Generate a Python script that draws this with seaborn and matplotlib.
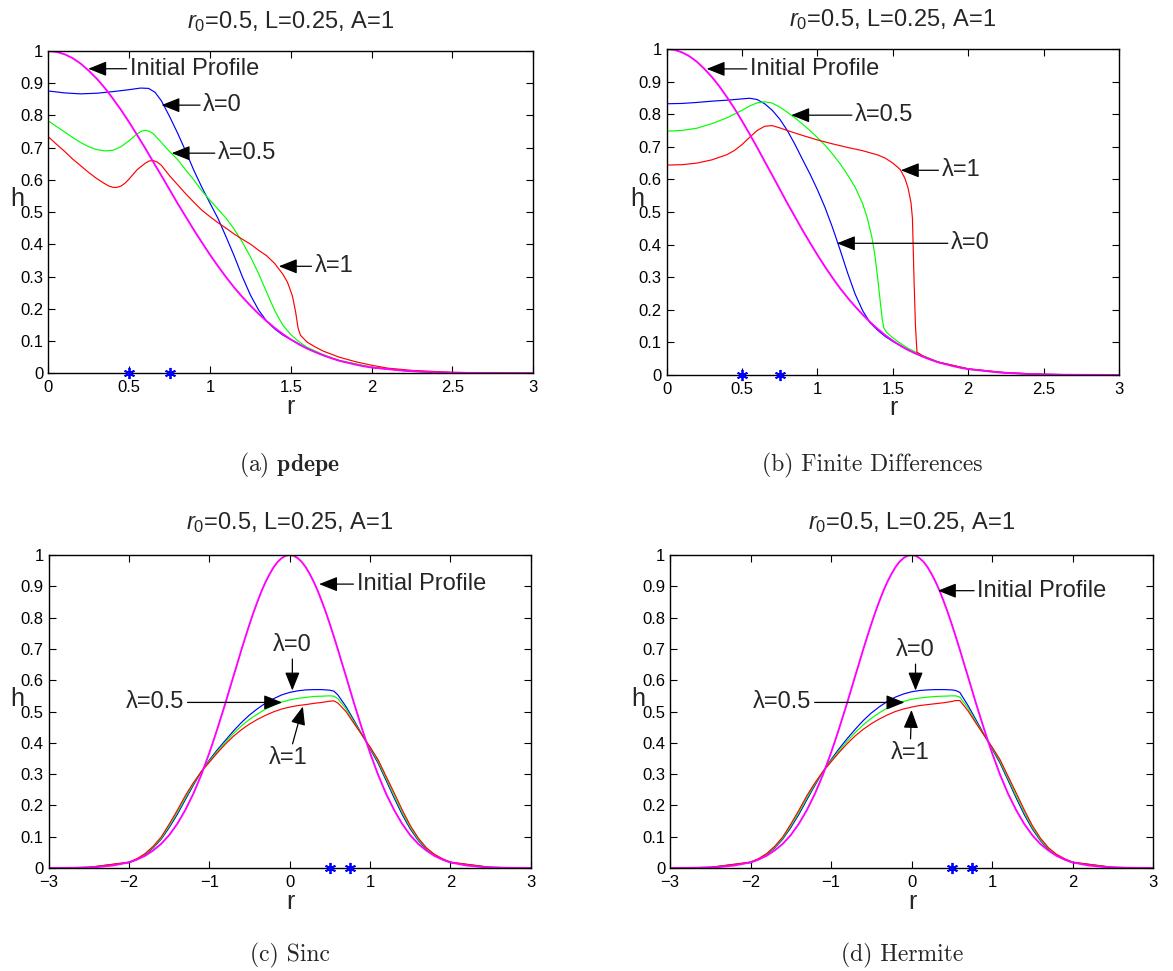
import matplotlib
matplotlib.use("Agg")
import matplotlib.pyplot as plt
import seaborn as sns

# ---------------- data ----------------
TITLE = r"$\mathit{r_0}$=0.5, L=0.25, A=1"
CAPTIONS = [r"(a) $\mathbf{pdepe}$", "(b) Finite Differences", "(c) Sinc", "(d) Hermite"]
STAR_R = [0.5, 0.75]
STAR_H = [0.0, 0.0]

Y_TICKS = [0, 0.1, 0.2, 0.3, 0.4, 0.5, 0.6, 0.7, 0.8, 0.9, 1.0]
Y_LABELS = ["0", "0.1", "0.2", "0.3", "0.4", "0.5", "0.6", "0.7", "0.8", "0.9", "1"]
X_TICKS_HALF = [0, 0.5, 1, 1.5, 2, 2.5, 3]
X_LABELS_HALF = ["0", "0.5", "1", "1.5", "2", "2.5", "3"]
X_TICKS_FULL = [-3, -2, -1, 0, 1, 2, 3]
X_LABELS_FULL = ["\u22123", "\u22122", "\u22121", "0", "1", "2", "3"]

# initial profile (radial)
INIT_R = [0.0, 0.05, 0.1, 0.15, 0.2, 0.25, 0.3, 0.35, 0.4, 0.45, 0.5, 0.55, 0.6, 0.65,
          0.7, 0.75, 0.8, 0.85, 0.9, 0.95, 1.0, 1.05, 1.1, 1.15, 1.2, 1.25, 1.3, 1.35,
          1.4, 1.45, 1.5, 1.55, 1.6, 1.65, 1.7, 1.75, 1.8, 1.85, 1.9, 1.95, 2.0, 2.2,
          2.4, 2.6, 2.8, 3.0]
INIT_H = [1.000, 0.9975, 0.990, 0.978, 0.961, 0.939, 0.914, 0.885, 0.852, 0.817, 0.779,
          0.739, 0.698, 0.655, 0.613, 0.570, 0.527, 0.486, 0.445, 0.406, 0.368, 0.332,
          0.298, 0.266, 0.237, 0.210, 0.185, 0.162, 0.141, 0.122, 0.105, 0.090, 0.077,
          0.066, 0.056, 0.047, 0.039, 0.033, 0.027, 0.022, 0.018, 0.008, 0.003, 0.001,
          0.0004, 0.0001]
# initial profile (full line)
INIT_X = [-3.0, -2.8, -2.6, -2.4, -2.2, -2.0, -1.9, -1.8, -1.7, -1.6, -1.5, -1.4, -1.3,
          -1.2, -1.1, -1.0, -0.95, -0.9, -0.85, -0.8, -0.75, -0.7, -0.65, -0.6, -0.55,
          -0.5, -0.45, -0.4, -0.35, -0.3, -0.25, -0.2, -0.15, -0.1, -0.05, 0.0, 0.05,
          0.1, 0.15, 0.2, 0.25, 0.3, 0.35, 0.4, 0.45, 0.5, 0.55, 0.6, 0.65, 0.7, 0.75,
          0.8, 0.85, 0.9, 0.95, 1.0, 1.1, 1.2, 1.3, 1.4, 1.5, 1.6, 1.7, 1.8, 1.9, 2.0,
          2.2, 2.4, 2.6, 2.8, 3.0]
INIT_HX = [0.0001, 0.0004, 0.001, 0.003, 0.008, 0.018, 0.027, 0.039, 0.056, 0.077, 0.105,
           0.141, 0.185, 0.237, 0.298, 0.368, 0.406, 0.445, 0.486, 0.527, 0.570, 0.613,
           0.655, 0.698, 0.739, 0.779, 0.817, 0.852, 0.885, 0.914, 0.939, 0.961, 0.978,
           0.990, 0.9975, 1.000, 0.9975, 0.990, 0.978, 0.961, 0.939, 0.914, 0.885, 0.852,
           0.817, 0.779, 0.739, 0.698, 0.655, 0.613, 0.570, 0.527, 0.486, 0.445, 0.406,
           0.368, 0.298, 0.237, 0.185, 0.141, 0.105, 0.077, 0.056, 0.039, 0.027, 0.018,
           0.008, 0.003, 0.001, 0.0004, 0.0001]

# (a) pdepe
A_R_L0 = [0.0, 0.1, 0.2, 0.3, 0.4, 0.5, 0.57, 0.62, 0.66, 0.7, 0.75, 0.8, 0.85, 0.9, 0.95,
          1.0, 1.05, 1.1, 1.15, 1.2, 1.25, 1.3, 1.35, 1.4, 1.45, 1.5, 1.6, 1.7, 1.8, 2.0,
          2.25, 2.5, 2.75, 3.0]
A_H_L0 = [0.876, 0.870, 0.867, 0.869, 0.874, 0.880, 0.885, 0.884, 0.872, 0.845, 0.797,
          0.745, 0.689, 0.630, 0.577, 0.528, 0.480, 0.423, 0.364, 0.300, 0.243, 0.197,
          0.162, 0.138, 0.119, 0.105, 0.077, 0.056, 0.039, 0.018, 0.006, 0.002, 0.0005, 0.0]
A_R_L05 = [0.0, 0.05, 0.1, 0.15, 0.2, 0.25, 0.3, 0.35, 0.4, 0.45, 0.5, 0.55, 0.575, 0.6,
           0.625, 0.65, 0.7, 0.75, 0.8, 0.85, 0.9, 0.95, 1.0, 1.05, 1.1, 1.15, 1.2, 1.25,
           1.3, 1.35, 1.4, 1.45, 1.5, 1.55, 1.6, 1.7, 1.8, 2.0, 2.25, 2.5, 2.75, 3.0]
A_H_L05 = [0.783, 0.766, 0.749, 0.732, 0.716, 0.703, 0.694, 0.690, 0.692, 0.703, 0.722,
           0.743, 0.751, 0.754, 0.751, 0.743, 0.716, 0.688, 0.663, 0.631, 0.600, 0.566,
           0.537, 0.509, 0.481, 0.447, 0.407, 0.362, 0.310, 0.252, 0.195, 0.150, 0.120,
           0.098, 0.081, 0.058, 0.040, 0.019, 0.007, 0.002, 0.0005, 0.0]
A_R_L1 = [0.0, 0.05, 0.1, 0.15, 0.2, 0.25, 0.3, 0.35, 0.375, 0.4, 0.425, 0.45, 0.475,
          0.5, 0.55, 0.6, 0.625, 0.65, 0.675, 0.7, 0.75, 0.8, 0.85, 0.9, 0.95, 1.0, 1.05,
          1.1, 1.15, 1.2, 1.25, 1.3, 1.35, 1.4, 1.45, 1.48, 1.51, 1.53, 1.545, 1.56, 1.6,
          1.65, 1.7, 1.8, 1.9, 2.0, 2.1, 2.25, 2.5, 2.75, 3.0]
A_H_L1 = [0.734, 0.711, 0.689, 0.665, 0.644, 0.623, 0.604, 0.588, 0.581, 0.577, 0.577,
          0.581, 0.590, 0.603, 0.632, 0.652, 0.659, 0.660, 0.655, 0.645, 0.613, 0.585,
          0.557, 0.531, 0.506, 0.486, 0.467, 0.450, 0.432, 0.416, 0.401, 0.382, 0.365,
          0.341, 0.308, 0.282, 0.240, 0.190, 0.140, 0.118, 0.097, 0.082, 0.069, 0.050,
          0.036, 0.025, 0.016, 0.009, 0.003, 0.001, 0.0]

# (b) finite differences
B_R_L0 = [0.0, 0.1, 0.2, 0.3, 0.4, 0.5, 0.55, 0.6, 0.65, 0.7, 0.75, 0.8, 0.85, 0.9, 0.95,
          1.0, 1.05, 1.1, 1.15, 1.2, 1.25, 1.3, 1.35, 1.4, 1.45, 1.5, 1.6, 1.7, 1.8, 2.0,
          2.25, 2.5, 2.75, 3.0]
B_H_L0 = [0.832, 0.833, 0.836, 0.840, 0.843, 0.847, 0.849, 0.845, 0.832, 0.812, 0.785,
          0.750, 0.708, 0.662, 0.617, 0.568, 0.514, 0.452, 0.384, 0.313, 0.248, 0.197,
          0.160, 0.137, 0.118, 0.103, 0.077, 0.056, 0.039, 0.018, 0.006, 0.002, 0.0005, 0.0]
B_R_L05 = [0.0, 0.1, 0.2, 0.3, 0.4, 0.5, 0.55, 0.6, 0.65, 0.7, 0.75, 0.8, 0.85, 0.9, 0.95,
           1.0, 1.05, 1.1, 1.15, 1.2, 1.25, 1.3, 1.33, 1.36, 1.38, 1.4, 1.42, 1.43, 1.44,
           1.46, 1.5, 1.55, 1.6, 1.7, 1.8, 2.0, 2.25, 2.5, 2.75, 3.0]
B_H_L05 = [0.748, 0.750, 0.757, 0.771, 0.789, 0.812, 0.825, 0.835, 0.838, 0.834, 0.822,
           0.806, 0.789, 0.770, 0.750, 0.728, 0.705, 0.678, 0.648, 0.614, 0.576, 0.525,
           0.482, 0.425, 0.370, 0.295, 0.210, 0.170, 0.145, 0.130, 0.114, 0.097, 0.082,
           0.059, 0.040, 0.019, 0.007, 0.002, 0.0005, 0.0]
B_R_L1 = [0.0, 0.1, 0.2, 0.3, 0.4, 0.45, 0.5, 0.55, 0.6, 0.65, 0.7, 0.75, 0.8, 0.9, 1.0,
          1.1, 1.2, 1.3, 1.4, 1.45, 1.5, 1.55, 1.58, 1.6, 1.62, 1.63, 1.64, 1.65, 1.66,
          1.7, 1.8, 2.0, 2.25, 2.5, 2.75, 3.0]
B_H_L1 = [0.644, 0.645, 0.650, 0.660, 0.676, 0.689, 0.707, 0.729, 0.750, 0.763, 0.765,
          0.758, 0.750, 0.735, 0.721, 0.709, 0.698, 0.688, 0.675, 0.665, 0.650, 0.630,
          0.603, 0.575, 0.530, 0.480, 0.300, 0.150, 0.070, 0.058, 0.040, 0.019, 0.007,
          0.002, 0.0005, 0.0]

# (c) sinc  and (d) hermite  (common abscissa)
S_X = [-3.0, -2.5, -2.0, -1.9, -1.8, -1.7, -1.6, -1.5, -1.4, -1.3, -1.2, -1.1, -1.0, -0.9,
       -0.8, -0.7, -0.6, -0.5, -0.4, -0.3, -0.2, -0.1, 0.0, 0.1, 0.2, 0.3, 0.4, 0.5, 0.55,
       0.6, 0.7, 0.8, 0.9, 1.0, 1.1, 1.2, 1.3, 1.4, 1.5, 1.6, 1.7, 1.8, 1.9, 2.0, 2.5, 3.0]
C_H_L0 = [0.0, 0.002, 0.017, 0.027, 0.042, 0.064, 0.092, 0.129, 0.171, 0.218, 0.264,
          0.308, 0.345, 0.378, 0.408, 0.438, 0.465, 0.489, 0.509, 0.527, 0.541, 0.553,
          0.561, 0.566, 0.569, 0.570, 0.570, 0.568, 0.565, 0.553, 0.516, 0.472, 0.426,
          0.381, 0.335, 0.280, 0.224, 0.171, 0.125, 0.088, 0.060, 0.040, 0.027, 0.017,
          0.002, 0.0]
C_H_L05 = [0.0, 0.002, 0.018, 0.028, 0.044, 0.066, 0.095, 0.134, 0.177, 0.224, 0.268,
           0.308, 0.342, 0.373, 0.402, 0.430, 0.454, 0.475, 0.492, 0.508, 0.520, 0.530,
           0.537, 0.542, 0.545, 0.548, 0.549, 0.550, 0.549, 0.541, 0.509, 0.467, 0.425,
           0.384, 0.340, 0.286, 0.231, 0.178, 0.130, 0.091, 0.062, 0.042, 0.028, 0.018,
           0.002, 0.0]
C_H_L1 = [0.0, 0.002, 0.019, 0.030, 0.046, 0.069, 0.099, 0.140, 0.184, 0.231, 0.272,
          0.308, 0.338, 0.368, 0.396, 0.421, 0.442, 0.460, 0.475, 0.488, 0.499, 0.508,
          0.514, 0.519, 0.522, 0.526, 0.529, 0.533, 0.534, 0.527, 0.500, 0.462, 0.425,
          0.387, 0.346, 0.293, 0.240, 0.186, 0.136, 0.096, 0.065, 0.044, 0.030, 0.019,
          0.002, 0.0]
D_H_L0 = [0.0, 0.002, 0.017, 0.027, 0.042, 0.064, 0.092, 0.129, 0.171, 0.218, 0.264,
          0.308, 0.346, 0.381, 0.413, 0.443, 0.471, 0.495, 0.515, 0.532, 0.546, 0.556,
          0.563, 0.567, 0.569, 0.570, 0.570, 0.569, 0.567, 0.561, 0.520, 0.474, 0.427,
          0.381, 0.335, 0.280, 0.224, 0.171, 0.125, 0.088, 0.060, 0.040, 0.027, 0.017,
          0.002, 0.0]
D_H_L05 = [0.0, 0.002, 0.018, 0.028, 0.044, 0.066, 0.095, 0.134, 0.177, 0.224, 0.268,
           0.308, 0.343, 0.375, 0.405, 0.433, 0.457, 0.478, 0.496, 0.511, 0.523, 0.532,
           0.539, 0.543, 0.546, 0.548, 0.549, 0.550, 0.550, 0.546, 0.512, 0.468, 0.425,
           0.384, 0.340, 0.286, 0.231, 0.178, 0.130, 0.091, 0.062, 0.042, 0.028, 0.018,
           0.002, 0.0]
D_H_L1 = [0.0, 0.002, 0.019, 0.030, 0.046, 0.069, 0.099, 0.140, 0.184, 0.231, 0.272,
          0.308, 0.339, 0.369, 0.397, 0.422, 0.443, 0.461, 0.476, 0.489, 0.500, 0.508,
          0.514, 0.519, 0.522, 0.525, 0.528, 0.532, 0.535, 0.535, 0.503, 0.463, 0.425,
          0.387, 0.346, 0.293, 0.240, 0.186, 0.136, 0.096, 0.065, 0.044, 0.030, 0.019,
          0.002, 0.0]

# annotations: (text, head(x,y), text anchor(x,y), ha)
NOTES_A = [("Initial Profile", (0.247, 0.945), (0.505, 0.945), "left"),
           ("\u03bb=0", (0.70, 0.832), (0.959, 0.832), "left"),
           ("\u03bb=0.5", (0.763, 0.683), (1.05, 0.683), "left"),
           ("\u03bb=1", (1.426, 0.332), (1.648, 0.332), "left")]
NOTES_B = [("Initial Profile", (0.265, 0.939), (0.553, 0.939), "left"),
           ("\u03bb=0.5", (0.826, 0.797), (1.25, 0.797), "left"),
           ("\u03bb=1", (1.553, 0.628), (1.824, 0.628), "left"),
           ("\u03bb=0", (1.129, 0.404), (1.886, 0.404), "left")]
NOTES_C = [("Initial Profile", (0.366, 0.907), (0.834, 0.907), "left"),
           ("\u03bb=0", (0.033, 0.567), (0.033, 0.713), "center"),
           ("\u03bb=0.5", (-0.094, 0.529), (-1.313, 0.529), "right"),
           ("\u03bb=1", (0.164, 0.516), (-0.014, 0.351), "center")]
NOTES_D = [("Initial Profile", (0.328, 0.886), (0.818, 0.886), "left"),
           ("\u03bb=0", (0.05, 0.567), (0.05, 0.697), "center"),
           ("\u03bb=0.5", (-0.088, 0.529), (-1.244, 0.529), "right"),
           ("\u03bb=1", (0.0, 0.505), (-0.018, 0.367), "center")]

# ---------------- style ----------------
sns.set_theme(style="ticks")
plt.rcParams["font.family"] = ["Liberation Sans", "DejaVu Sans"]
plt.rcParams.update({
    "mathtext.fontset": "custom",
    "mathtext.rm": "Liberation Sans",
    "mathtext.it": "Liberation Sans:italic",
    "mathtext.bf": "Liberation Sans:bold",
    "axes.edgecolor": "black",
    "axes.linewidth": 1.0,
})

W, H = 1173, 971
fig = plt.figure(figsize=(W / 100, H / 100), dpi=100)
fig.patch.set_facecolor("white")


def add_ax(l, r, t, b):
    return fig.add_axes([l / W, 1 - b / H, (r - l) / W, (b - t) / H])


BLUE, GREEN, RED, MAG = "#0000ff", "#00ff00", "#ff0000", "#ff00ff"


def panel(ax, curves, ix, ih, xt, xl, xlim, notes, title_dy):
    for xs, ys, col in curves:
        sns.lineplot(x=xs, y=ys, ax=ax, color=col, lw=0.85, estimator=None, sort=False)
    sns.lineplot(x=ix, y=ih, ax=ax, color=MAG, lw=1.35, estimator=None, sort=False)
    sns.lineplot(x=STAR_R, y=STAR_H, ax=ax, color=BLUE, marker=(6, 2, 0),
                 linestyle="", markersize=8, markeredgecolor=BLUE,
                 markeredgewidth=1.3, estimator=None, clip_on=False, zorder=5)
    ax.set_xlim(*xlim)
    ax.set_ylim(0, 1)
    ax.set_xticks(xt)
    ax.set_xticklabels(xl)
    ax.set_yticks(Y_TICKS)
    ax.set_yticklabels(Y_LABELS)
    ax.tick_params(direction="in", top=True, right=True, length=5, width=0.8,
                   labelsize=12, colors="black")
    ax.tick_params(axis="x", pad=5)
    ax.tick_params(axis="y", pad=3.5)
    ax.set_xlabel("")
    ax.set_ylabel("")
    for s in ax.spines.values():
        s.set_visible(True)
        s.set_color("black")
    ax.text(0.5, 1 + title_dy, TITLE, transform=ax.transAxes, ha="center",
            va="baseline", fontsize=17)
    ax.text(-0.065, 0.54, "h", transform=ax.transAxes, ha="center", va="center",
            fontsize=18)
    for txt, head, anchor, ha in notes:
        ax.annotate(txt, xy=head, xytext=anchor, ha=ha, va="center", fontsize=17,
                    arrowprops=dict(arrowstyle="-|>,head_length=0.75,head_width=0.3",
                                    color="black", lw=0.9, shrinkA=0, shrinkB=0,
                                    mutation_scale=15))


axA = add_ax(48.3, 533.3, 51, 373.3)
axB = add_ax(666.7, 1119, 49, 375)
axC = add_ax(48.7, 530.7, 555, 868)
axD = add_ax(670, 1153, 555, 868)

panel(axA, [(A_R_L0, A_H_L0, BLUE), (A_R_L05, A_H_L05, GREEN), (A_R_L1, A_H_L1, RED)],
      INIT_R, INIT_H, X_TICKS_HALF, X_LABELS_HALF, (0, 3), NOTES_A, 23 / 322)
panel(axB, [(B_R_L0, B_H_L0, BLUE), (B_R_L05, B_H_L05, GREEN), (B_R_L1, B_H_L1, RED)],
      INIT_R, INIT_H, X_TICKS_HALF, X_LABELS_HALF, (0, 3), NOTES_B, 23 / 326)
panel(axC, [(S_X, C_H_L0, BLUE), (S_X, C_H_L05, GREEN), (S_X, C_H_L1, RED)],
      INIT_X, INIT_HX, X_TICKS_FULL, X_LABELS_FULL, (-3, 3), NOTES_C, 26 / 313)
panel(axD, [(S_X, D_H_L0, BLUE), (S_X, D_H_L05, GREEN), (S_X, D_H_L1, RED)],
      INIT_X, INIT_HX, X_TICKS_FULL, X_LABELS_FULL, (-3, 3), NOTES_D, 26 / 313)

# x labels "r"
for xc, yc in [(290, 407), (893, 408), (290, 902), (912, 902)]:
    fig.text(xc / W, 1 - yc / H, "r", ha="center", va="center", fontsize=18)

# captions
for (xc, yc), cap in zip([(289, 465), (872, 465), (290, 955), (902, 955)], CAPTIONS):
    fig.text(xc / W, 1 - yc / H, cap, ha="center", va="center", fontsize=17,
             family="cmr10", math_fontfamily="cm")

fig.savefig("out.png", dpi=100, facecolor="white")
